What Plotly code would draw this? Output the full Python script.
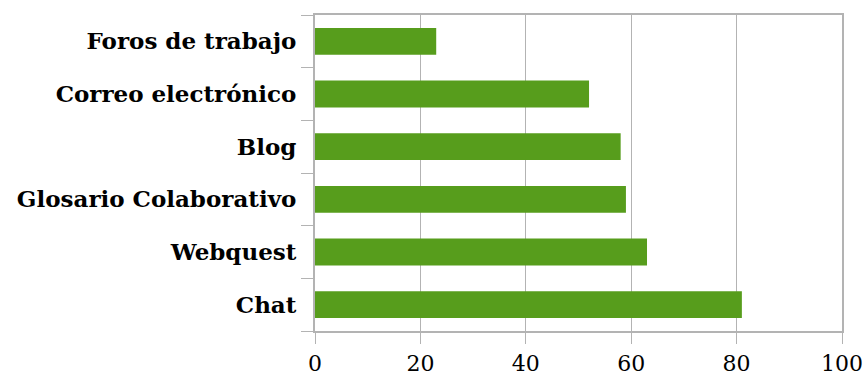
import plotly.graph_objects as go

# Herramientas (de abajo hacia arriba en el eje vertical)
herramientas = ["Chat", "Webquest", "Glosario Colaborativo", "Blog",
                "Correo electrónico", "Foros de trabajo"]
valores = [81, 63, 59, 58, 52, 23]
ticks_x = [0, 20, 40, 60, 80, 100]

VERDE = "#579D1C"
GRIS = "#b3b3b3"

fig = go.Figure(
    go.Bar(
        x=valores,
        y=herramientas,
        orientation="h",
        marker=dict(color=VERDE, line=dict(width=0)),
        hoverinfo="x+y",
    )
)

fig.update_layout(
    width=867,
    height=379,
    margin=dict(l=315, r=25, t=14.5, b=48),
    paper_bgcolor="white",
    plot_bgcolor="white",
    bargap=0.49,
    showlegend=False,
    font=dict(family="DejaVu Serif", color="black"),
)

fig.update_xaxes(
    range=[0, 100],
    tickvals=ticks_x,
    ticktext=[str(v) for v in ticks_x],
    showgrid=True,
    gridcolor=GRIS,
    gridwidth=1,
    zeroline=False,
    showline=True,
    linecolor=GRIS,
    linewidth=1.5,
    mirror=True,
    ticks="outside",
    ticklen=11,
    tickcolor=GRIS,
    tickwidth=1,
    ticklabelstandoff=1,
    automargin=False,
    tickfont=dict(family="DejaVu Serif", size=22, color="black"),
)

fig.update_yaxes(
    categoryorder="array",
    categoryarray=herramientas,
    showgrid=False,
    zeroline=False,
    showline=True,
    linecolor=GRIS,
    linewidth=2,
    mirror=True,
    ticks="outside",
    tickson="boundaries",
    ticklen=12,
    tickcolor=GRIS,
    tickwidth=1,
    ticklabelstandoff=12,
    automargin=False,
    tickfont=dict(family="DejaVu Serif", size=23, color="black", weight="bold"),
)

fig.write_html("out.html")
